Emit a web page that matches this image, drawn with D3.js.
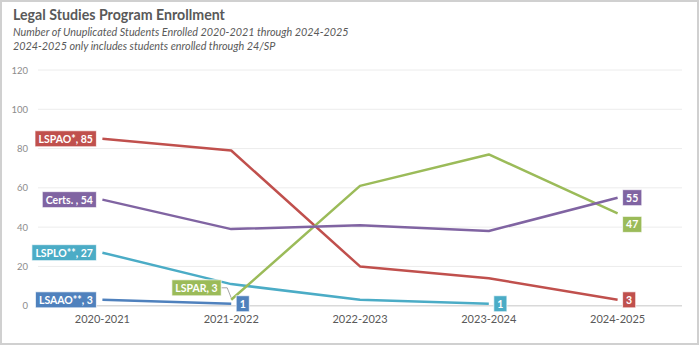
<!DOCTYPE html>
<html>
<head>
<meta charset="utf-8">
<script src="https://cdn.jsdelivr.net/npm/d3@7"></script>
<style>
  body { margin: 0; background: #fff; }
  svg { display: block; font-family: Lato, "Noto Sans", sans-serif; }
</style>
</head>
<body>
<div id="chart"></div>
<script>
// chart values
const years = ['2020-2021', '2021-2022', '2022-2023', '2023-2024', '2024-2025'];
const seriesNames = ['LSAAO**', 'LSPAO*', 'LSPLO**', 'LSPAR', 'Certs. '];
const lsaao = [3, 1, null, null, null];
const lspao = [85, 79, 20, 14, 3];
const lsplo = [27, 11, 3, 1, null];
const lspar = [null, 3, 61, 77, 47];
const certs = [54, 39, 41, 38, 55];
const yTicks = [0, 20, 40, 60, 80, 100, 120];

const colors = ['#4F81BD', '#C0504D', '#4BACC6', '#9BBB59', '#8064A2'];
const allValues = [lsaao, lspao, lsplo, lspar, certs];

let width = 700, height = 346;
let svg = d3.select('#chart').append('svg')
    .attr('width', width)
    .attr('height', height);

// outer border
svg.append('rect')
    .attr('x', 1).attr('y', 1)
    .attr('width', width - 3).attr('height', height - 3)
    .style('fill', '#fff')
    .style('stroke', '#d0d0d0')
    .style('stroke-width', 2);

// titles
svg.append('text')
    .attr('x', 13).attr('y', 20)
    .style('font-size', '14.2px')
    .style('font-weight', 'bold')
    .style('fill', '#595959')
    .text('Legal Studies Program Enrollment');
svg.append('text')
    .attr('x', 13).attr('y', 36)
    .style('font-size', '10.8px')
    .style('font-style', 'italic')
    .style('fill', '#595959')
    .text('Number of Unuplicated Students Enrolled 2020-2021 through 2024-2025');
svg.append('text')
    .attr('x', 13).attr('y', 50)
    .style('font-size', '10.8px')
    .style('font-style', 'italic')
    .style('fill', '#595959')
    .text('2024-2025 only includes students enrolled through 24/SP');

// scales
let x = d3.scaleBand().domain(years).range([38, 682]);
let xc = d => x(d) + x.bandwidth() / 2;
let y = d3.scaleLinear().domain([0, 120]).range([305.7, 70]);

// gridlines
svg.append('g').selectAll('line')
    .data(yTicks)
    .enter().append('line')
    .attr('x1', 38).attr('x2', 682)
    .attr('y1', d => y(d)).attr('y2', d => y(d))
    .style('stroke', d => d === 0 ? '#d9d9d9' : '#ececec')
    .style('stroke-width', d => d === 0 ? 1.5 : 1);

// y axis
let yAxis = svg.append('g')
    .attr('transform', 'translate(30,0)')
    .call(d3.axisLeft(y).tickValues(yTicks).tickSize(0).tickPadding(2));
yAxis.select('.domain').remove();
yAxis.selectAll('text')
    .style('font-size', '9.5px')
    .style('fill', '#8c8c8c')
    .style('font-family', 'Lato, "Noto Sans", sans-serif');

// x axis
let xAxis = svg.append('g')
    .attr('transform', 'translate(0,' + 308 + ')')
    .call(d3.axisBottom(x).tickSize(0).tickPadding(7));
xAxis.select('.domain').remove();
xAxis.selectAll('text')
    .style('font-size', '11px')
    .style('fill', '#595959')
    .style('font-family', 'Lato, "Noto Sans", sans-serif');

// lines
let line = d3.line()
    .defined(d => d.v !== null)
    .x(d => xc(d.year))
    .y(d => y(d.v));

let series = seriesNames.map((name, i) => ({
    name: name,
    color: colors[i],
    points: years.map((yr, j) => ({year: yr, v: allValues[i][j]}))
}));

svg.append('g').selectAll('path')
    .data(series)
    .enter().append('path')
    .attr('d', s => line(s.points))
    .style('fill', 'none')
    .style('stroke', s => s.color)
    .style('stroke-width', 2.5)
    .style('stroke-linejoin', 'round');

// data labels
let labelLayer = svg.append('g');

function addLabel(text, color, px, py, anchor) {
    let g = labelLayer.append('g');
    let t = g.append('text')
        .style('font-size', '10.5px')
        .style('font-weight', 'bold')
        .style('fill', '#fff')
        .text(text);
    let w = t.node().getComputedTextLength() + 7;
    let h = 16;
    let bx = anchor === 'right' ? px - w : px;
    g.insert('rect', 'text')
        .attr('x', bx).attr('y', py - h / 2)
        .attr('width', w).attr('height', h)
        .style('fill', color)
        .style('stroke', '#fff')
        .style('stroke-opacity', 0.7)
        .style('stroke-width', 1);
    t.attr('x', bx + w / 2).attr('y', py + 4)
        .attr('text-anchor', 'middle');
    return {x: bx, w: w};
}

series.forEach(s => {
    let pts = s.points.filter(p => p.v !== null);
    let first = pts[0], last = pts[pts.length - 1];
    let fx = xc(first.year), fy = y(first.v);
    if (s.name === 'LSPAR') {
        // callout with leader line
        addLabel(s.name + ', ' + first.v, s.color, fx - 10, fy - 12, 'right');
        labelLayer.insert('path', 'g')
            .attr('d', `M ${fx - 10} ${fy - 12} L ${fx - 4} ${fy - 12} L ${fx} ${fy - 2}`)
            .style('fill', 'none')
            .style('stroke', '#a6a6a6')
            .style('stroke-width', 1);
    } else {
        addLabel(s.name + ', ' + first.v, s.color, fx - 6, fy, 'right');
    }
    let lx = xc(last.year), ly = y(last.v);
    let dy = s.name === 'LSPAR' ? 11 : 0;
    addLabel(String(last.v), s.color, lx + 5, ly + dy, 'left');
});
</script>
</body>
</html>
